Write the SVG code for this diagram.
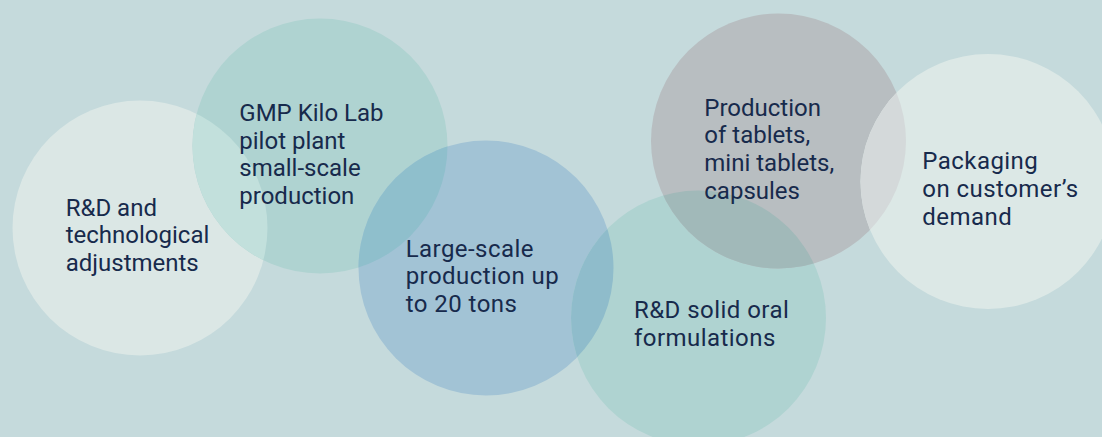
<svg xmlns="http://www.w3.org/2000/svg" width="1102" height="437" viewBox="0 0 1102 437">
  <style>
    .lbl { font-family: Roboto, "Liberation Sans", sans-serif; font-size: 24px; fill: #172a4c; }
    .sp { letter-spacing: 0.45px; }
  </style>
  <defs>
    <clipPath id="k1"><circle cx="140" cy="228" r="127.5"/></clipPath>
    <clipPath id="k2"><circle cx="320" cy="146" r="127.5"/></clipPath>
    <clipPath id="k3"><circle cx="486" cy="268" r="127.5"/></clipPath>
    <clipPath id="k4"><circle cx="698.5" cy="318" r="127.5"/></clipPath>
    <clipPath id="k5"><circle cx="778.5" cy="141" r="127.5"/></clipPath>
  </defs>
  <rect width="1102" height="437" fill="#c5dadc"/>

  <g id="node-rd">
    <circle cx="140" cy="228" r="127.5" fill="#dbe7e5"/>
  </g>
  <g id="node-gmp">
    <circle cx="320" cy="146" r="127.5" fill="#afd3d1"/>
    <circle cx="320" cy="146" r="127.5" fill="#c2e0dc" clip-path="url(#k1)"/>
  </g>
  <g id="node-large">
    <circle cx="486" cy="268" r="127.5" fill="#a2c3d5"/>
    <circle cx="486" cy="268" r="127.5" fill="#8fbfcc" clip-path="url(#k2)"/>
  </g>
  <g id="node-solid">
    <circle cx="698.5" cy="318" r="127.5" fill="#afd3d1"/>
    <circle cx="698.5" cy="318" r="127.5" fill="#8fbccb" clip-path="url(#k3)"/>
  </g>
  <g id="node-tablets">
    <circle cx="778.5" cy="141" r="127.5" fill="#b8bec1"/>
    <circle cx="778.5" cy="141" r="127.5" fill="#a1b9b9" clip-path="url(#k4)"/>
  </g>
  <g id="node-packaging">
    <circle cx="988" cy="181.5" r="127.5" fill="#dce8e6"/>
    <circle cx="988" cy="181.5" r="127.5" fill="#d4d9da" clip-path="url(#k5)"/>
  </g>

  <g id="labels">
    <text class="lbl"><tspan x="65.7" y="215.7">R&amp;D and</tspan><tspan x="65.7" y="243.3">technological</tspan><tspan x="65.7" y="270.9">adjustments</tspan></text>
    <text class="lbl"><tspan x="239.3" y="121">GMP Kilo Lab</tspan><tspan x="239.3" y="148.6">pilot plant</tspan><tspan x="239.3" y="176.2">small-scale</tspan><tspan x="239.3" y="203.8">production</tspan></text>
    <text class="lbl sp"><tspan x="405.7" y="256.5">Large-scale</tspan><tspan x="405.7" y="284.1">production up</tspan><tspan x="405.7" y="311.7">to 20 tons</tspan></text>
    <text class="lbl sp"><tspan x="634" y="318.4">R&amp;D solid oral</tspan><tspan x="634" y="346">formulations</tspan></text>
    <text class="lbl"><tspan x="704.3" y="115.5">Production</tspan><tspan x="704.3" y="143.3">of tablets,</tspan><tspan x="704.3" y="171.1">mini tablets,</tspan><tspan x="704.3" y="198.9">capsules</tspan></text>
    <text class="lbl sp"><tspan x="922.3" y="169.2">Packaging</tspan><tspan x="922.3" y="197.2">on customer’s</tspan><tspan x="922.3" y="225">demand</tspan></text>
  </g>
  <g id="connectors"/>
</svg>
